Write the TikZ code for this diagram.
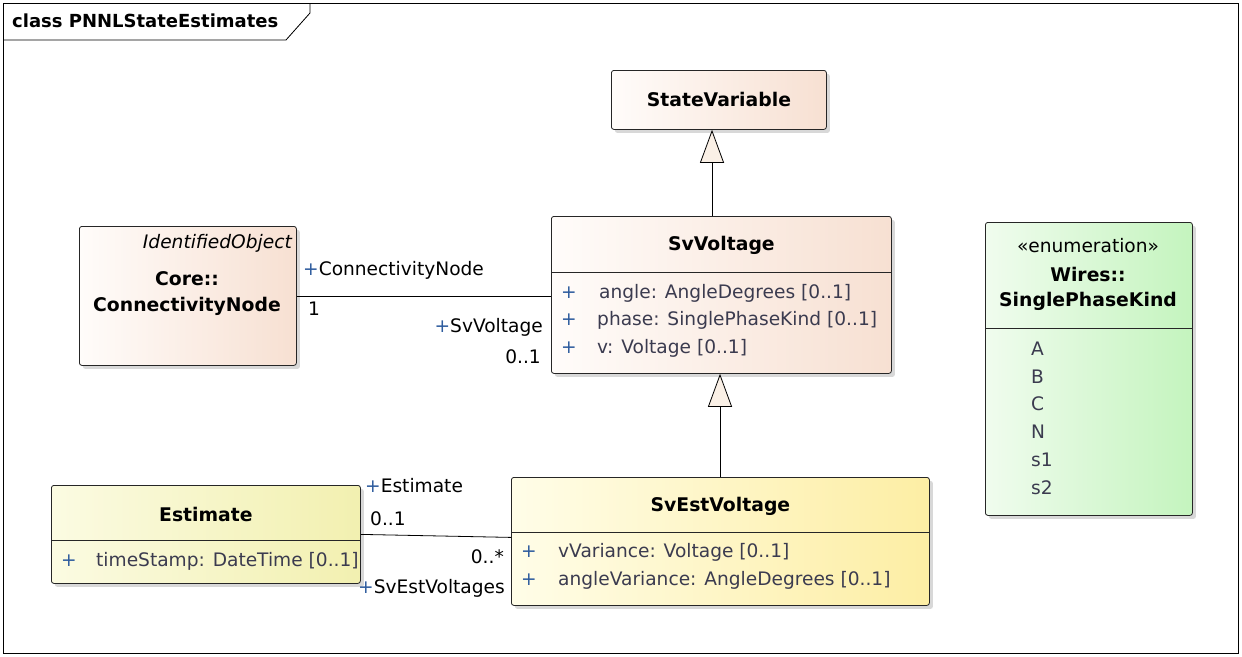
\documentclass[tikz,border=0pt]{standalone}
\usepackage{fontspec}
\setmainfont{DejaVu Sans}
\usetikzlibrary{arrows.meta,shadows,calc}
\definecolor{peachR}{HTML}{F7E0D2}
\definecolor{peachL}{HTML}{FFFCFA}
\definecolor{yelL}{HTML}{FFFDE8}
\definecolor{yelR}{HTML}{FDEEA4}
\definecolor{estL}{HTML}{FBFBE2}
\definecolor{estR}{HTML}{F2F0B0}
\definecolor{grnL}{HTML}{F0FCEE}
\definecolor{grnR}{HTML}{C4F4BE}
\definecolor{attr}{HTML}{3B3B4F}
\definecolor{plus}{HTML}{2E5C9E}
\definecolor{tri}{HTML}{FAF0E6}
\tikzset{
  cls/.style={draw=black!85, line width=0.8pt, rounded corners=2.5pt, anchor=north west, inner sep=0pt,
    drop shadow={shadow xshift=3.5pt, shadow yshift=-3.5pt, fill=black!30, opacity=0.5}},
  peach/.style={left color=peachL, right color=peachR},
  yel/.style={left color=yelL, right color=yelR},
  estc/.style={left color=estL, right color=estR},
  grn/.style={left color=grnL, right color=grnR},
  sepline/.style={draw=black!85, line width=0.8pt},
  ttl/.style={font=\fontsize{18.8}{22}\selectfont\bfseries, inner sep=0pt},
  txt/.style={font=\fontsize{18.6}{22}\selectfont, inner sep=0pt},
  attrtxt/.style={font=\fontsize{18.6}{22}\selectfont, text=attr, inner sep=0pt, anchor=west},
  plustxt/.style={font=\fontsize{18.6}{22}\selectfont, text=plus, inner sep=0pt, anchor=west},
  lbl/.style={font=\fontsize{18.6}{22}\selectfont, inner sep=0pt},
  gen/.style={draw=black, line width=0.8pt, -{Triangle[width=24pt,length=33pt,fill=tri,line width=0.8pt]}},
  assoc/.style={draw=black, line width=0.8pt},
}
\begin{document}
\begin{tikzpicture}[x=1pt,y=-1pt]
\useasboundingbox (0,0) rectangle (1242,656);
\fill[white] (0,0) rectangle (1242,656);
% frame
\draw[line width=0.8pt] (3,3) rectangle (1238,653);
\draw[line width=0.8pt] (3,40) -- (286,40) -- (310,13) -- (310,3);
\node[ttl, anchor=west, font=\fontsize{18}{21}\selectfont\bfseries] (title) at (12,21) {class PNNLStateEstimates};

% classes
\node[cls, peach, minimum width=215pt, minimum height=59pt] (sv) at (611,70) {};
\node[ttl] (svt) at (sv.center) {StateVariable};

\node[cls, peach, minimum width=340pt, minimum height=157pt] (svv) at (551,216) {};
\draw[sepline] ($(svv.north west)+(0,56)$) -- ($(svv.north east)+(0,56)$);
\node[ttl] (svvt) at ($(svv.north)+(0,29)$) {SvVoltage};
\node[plustxt] (svvp1) at (561,293) {+};
\node[plustxt] (svvp2) at (561,320) {+};
\node[plustxt] (svvp3) at (561,348) {+};
\node[attrtxt] (svva1) at (599,293) {angle: AngleDegrees [0..1]};
\node[attrtxt] (svva2) at (597,320) {phase: SinglePhaseKind [0..1]};
\node[attrtxt] (svva3) at (597,348) {v: Voltage [0..1]};

\node[cls, peach, minimum width=217pt, minimum height=139pt] (cn) at (79,226) {};
\node[txt, anchor=east, font=\fontsize{18.6}{22}\selectfont\itshape] (cns) at (292,243) {IdentifiedObject};
\node[ttl] (cnp) at (187,279) {Core::};
\node[ttl] (cnt) at (187,306) {ConnectivityNode};

\node[cls, grn, minimum width=207pt, minimum height=293pt] (enum) at (985,222) {};
\draw[sepline] ($(enum.north west)+(0,106)$) -- ($(enum.north east)+(0,106)$);
\node[txt] (ens) at (1088,246) {«enumeration»};
\node[ttl] (enp) at (1088,274) {Wires::};
\node[ttl] (ent) at (1088,301) {SinglePhaseKind};
\node[attrtxt] (e1) at (1031,349) {A};
\node[attrtxt] (e2) at (1031,377) {B};
\node[attrtxt] (e3) at (1031,404) {C};
\node[attrtxt] (e4) at (1031,432) {N};
\node[attrtxt] (e5) at (1031,460) {s1};
\node[attrtxt] (e6) at (1031,488) {s2};

\node[cls, estc, minimum width=309pt, minimum height=98pt] (est) at (51,485) {};
\draw[sepline] ($(est.north west)+(0,55)$) -- ($(est.north east)+(0,55)$);
\node[ttl] (estt) at ($(est.north)+(0,29)$) {Estimate};
\node[plustxt] (estp1) at (61,561) {+};
\node[attrtxt] (esta1) at (96,561) {timeStamp: DateTime [0..1]};

\node[cls, yel, minimum width=418pt, minimum height=128pt] (sev) at (511,477) {};
\draw[sepline] ($(sev.north west)+(0,55)$) -- ($(sev.north east)+(0,55)$);
\node[ttl] (sevt) at ($(sev.north)+(0,29)$) {SvEstVoltage};
\node[plustxt] (sevp1) at (521,552) {+};
\node[plustxt] (sevp2) at (521,580) {+};
\node[attrtxt] (seva1) at (558,552) {vVariance: Voltage [0..1]};
\node[attrtxt] (seva2) at (558,580) {angleVariance: AngleDegrees [0..1]};

% generalizations
\coordinate (g1) at (712,0);
\coordinate (g2) at (720,0);
\draw[gen] (svv.north -| g1) -- (sv.south -| g1);
\draw[gen] (sev.north -| g2) -- (svv.south -| g2);

% associations
\draw[assoc] (cn.east) -- (cn.east -| svv.west);
\node[lbl, anchor=west] (l1) at (303,270) {{\color{plus}+}ConnectivityNode};
\node[lbl, anchor=west] (l2) at (308,309) {1};
\node[lbl, anchor=east] (l3) at (543,327) {{\color{plus}+}SvVoltage};
\node[lbl, anchor=east] (l4) at (541,357) {0..1};

\draw[assoc] (est.east) -- ($(sev.west)+(0,-4)$);
\node[lbl, anchor=west] (l5) at (365,486) {{\color{plus}+}Estimate};
\node[lbl, anchor=west] (l6) at (370,519) {0..1};
\node[lbl, anchor=east] (l7) at (504,557) {0..*};
\node[lbl, anchor=east] (l8) at (505,588) {{\color{plus}+}SvEstVoltages};
\end{tikzpicture}
\end{document}
